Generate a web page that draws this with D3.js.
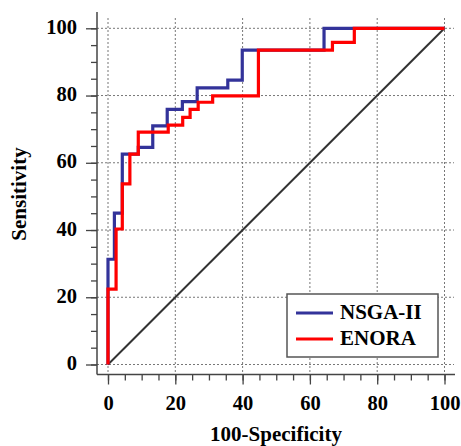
<!DOCTYPE html>
<html>
<head>
<meta charset="utf-8">
<script src="https://cdn.jsdelivr.net/npm/d3@7"></script>
<style>
	body { margin:0; background:#fff; }
	svg { display:block; }
	text { font-family:"Liberation Serif","Times New Roman",serif; font-weight:bold; fill:#000; }
</style>
</head>
<body>
<svg width="461" height="446"></svg>
<script>
//ROC points, one per vertical rise (x = 100-Specificity, y = Sensitivity)
var nsgaX = [0, 0, 1.9, 4.25, 9.0, 13.3, 17.6, 22.1, 26.5, 35.6, 39.9, 64.2, 100];
var nsgaY = [0, 31.3, 45.0, 62.6, 64.6, 71.0, 75.9, 78.2, 82.3, 84.6, 93.5, 100, 100];
var enoraX = [0, 0, 2.4, 4.25, 6.5, 9.0, 17.9, 22.2, 24.4, 26.8, 31.1, 44.7, 66.7, 73.2, 100];
var enoraY = [0, 22.4, 40.3, 53.7, 62.6, 69.1, 71.2, 73.5, 75.9, 78.0, 79.9, 93.5, 95.8, 100, 100];

var majorTicks = [0, 20, 40, 60, 80, 100];
var minorTicks = d3.range(0, 101, 5);
var seriesNames = ["NSGA-II", "ENORA"];
var seriesColors = ["#33339a", "#ff0000"];

//plot frame
var axisLeftX = 97, axisBottomY = 374.5, axisTopY = 12, axisRightX = 455;

var svg = d3.select("svg");
var x = d3.scaleLinear().domain([0, 100]).range([108, 444.5]);
var y = d3.scaleLinear().domain([0, 100]).range([364.5, 28.3]);

//dotted grid
svg.append("g").selectAll("line").data(majorTicks).enter().append("line")
	.attr("x1", function(d){ return x(d); })
	.attr("x2", function(d){ return x(d); })
	.attr("y1", 18)
	.attr("y2", axisBottomY)
	.style("stroke", "#777")
	.style("stroke-width", 1)
	.style("stroke-dasharray", "2,2");
svg.append("g").selectAll("line").data(majorTicks).enter().append("line")
	.attr("x1", axisLeftX)
	.attr("x2", 454)
	.attr("y1", function(d){ return y(d); })
	.attr("y2", function(d){ return y(d); })
	.style("stroke", "#777")
	.style("stroke-width", 1)
	.style("stroke-dasharray", "2,2");

//minor ticks, no labels
svg.append("g")
	.attr("transform", "translate(0," + axisBottomY + ")")
	.call(d3.axisBottom(x).tickValues(minorTicks).tickSize(6).tickFormat(""))
	.call(function(g){ g.select(".domain").remove(); });
svg.append("g")
	.attr("transform", "translate(" + axisLeftX + ",0)")
	.call(d3.axisLeft(y).tickValues(minorTicks).tickSize(6).tickFormat(""))
	.call(function(g){ g.select(".domain").remove(); });

//major ticks with labels
var xAxis = svg.append("g")
	.attr("transform", "translate(0," + axisBottomY + ")")
	.call(d3.axisBottom(x).tickValues(majorTicks).tickSize(10).tickPadding(0))
	.call(function(g){ g.select(".domain").remove(); });
xAxis.selectAll("text")
	.attr("y", 35.5)
	.attr("dy", 0)
	.style("font-size", "20.5px")
	.style("font-family", "'Liberation Serif',serif");
var yAxis = svg.append("g")
	.attr("transform", "translate(" + axisLeftX + ",0)")
	.call(d3.axisLeft(y).tickValues(majorTicks).tickSize(11).tickPadding(9))
	.call(function(g){ g.select(".domain").remove(); });
yAxis.selectAll("text")
	.attr("dy", "0.25em")
	.style("font-size", "20.5px")
	.style("font-family", "'Liberation Serif',serif");
svg.selectAll(".tick line").style("stroke", "#444").style("stroke-width", 1.3);

//axis lines
svg.append("line")
	.attr("x1", axisLeftX).attr("x2", axisLeftX)
	.attr("y1", axisTopY).attr("y2", axisBottomY)
	.style("stroke", "#444").style("stroke-width", 1.5);
svg.append("line")
	.attr("x1", axisLeftX).attr("x2", axisRightX)
	.attr("y1", axisBottomY).attr("y2", axisBottomY)
	.style("stroke", "#444").style("stroke-width", 1.5);

//reference diagonal
svg.append("line")
	.attr("x1", x(0)).attr("y1", y(0))
	.attr("x2", x(100)).attr("y2", y(100))
	.style("stroke", "#333")
	.style("stroke-width", 2);

//step curves, ENORA drawn last so it sits on top
var stepLine = d3.line()
	.x(function(d){ return x(d[0]); })
	.y(function(d){ return y(d[1]); })
	.curve(d3.curveStepAfter);
var series = [d3.zip(nsgaX, nsgaY), d3.zip(enoraX, enoraY)];
series.forEach(function(pts, i){
	svg.append("path")
		.datum(pts)
		.attr("d", stepLine)
		.style("fill", "none")
		.style("stroke", seriesColors[i])
		.style("stroke-width", 3.2)
		.style("stroke-linejoin", "miter");
});

//legend
var legend = svg.append("g");
legend.append("rect")
	.attr("x", 287).attr("y", 294)
	.attr("width", 151).attr("height", 63)
	.style("fill", "#fff")
	.style("stroke", "#555")
	.style("stroke-width", 1.5);
seriesNames.forEach(function(name, i){
	var ly = 313 + i * 26;
	legend.append("line")
		.attr("x1", 296).attr("x2", 333)
		.attr("y1", ly).attr("y2", ly)
		.style("stroke", seriesColors[i])
		.style("stroke-width", 3.2);
	legend.append("text")
		.attr("x", 340)
		.attr("y", ly + 6)
		.style("font-size", "21px")
		.text(name);
});

//axis titles
svg.append("text")
	.attr("x", 276)
	.attr("y", 441)
	.attr("text-anchor", "middle")
	.style("font-size", "21px")
	.text("100-Specificity");
svg.append("text")
	.attr("transform", "translate(25.5,194) rotate(-90)")
	.attr("text-anchor", "middle")
	.style("font-size", "21px")
	.text("Sensitivity");
</script>
</body>
</html>
